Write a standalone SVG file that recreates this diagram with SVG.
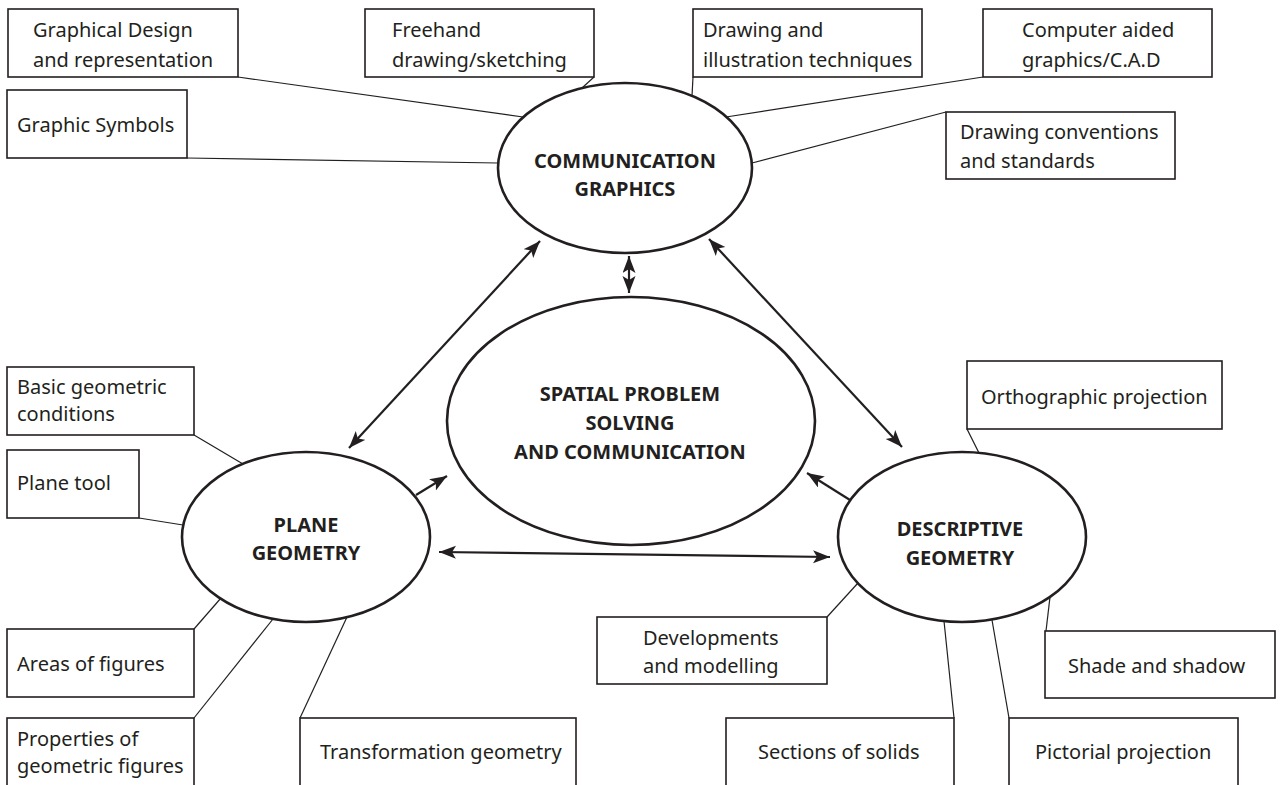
<svg xmlns="http://www.w3.org/2000/svg" width="1280" height="785" viewBox="0 0 1280 785">
<style>
.box{fill:#fff;stroke:#231f20;stroke-width:1.6}
.t{font-family:"Noto Sans","Open Sans","Liberation Sans",sans-serif;font-size:20px;fill:#231f20}
.b{font-family:"Noto Sans","Open Sans","Liberation Sans",sans-serif;font-size:20px;font-weight:bold;fill:#231f20;text-anchor:middle}
.ell{fill:#fff;stroke:#231f20;stroke-width:2.6}
.ln{stroke:#231f20;stroke-width:1.2;fill:none}
.ar{stroke:#231f20;stroke-width:2.2;fill:none;marker-end:url(#ah);marker-start:url(#ah)}
.ar1{stroke:#231f20;stroke-width:2.2;fill:none;marker-end:url(#ah)}
</style>
<defs>
<marker id="ah" markerUnits="userSpaceOnUse" markerWidth="18" markerHeight="14" refX="17" refY="6.5" orient="auto-start-reverse">
<path d="M0,0 L17,6.5 L0,13 L4,6.5 Z" fill="#231f20"/>
</marker>
</defs>
<rect width="1280" height="785" fill="#fff"/>
<g id="connectors">
<line class="ln" x1="238" y1="77" x2="523" y2="117"/>
<line class="ln" x1="594" y1="77" x2="582" y2="88"/>
<line class="ln" x1="693" y1="77" x2="692" y2="96"/>
<line class="ln" x1="983" y1="77" x2="726" y2="117"/>
<line class="ln" x1="187" y1="158" x2="498" y2="163"/>
<line class="ln" x1="946" y1="112" x2="752" y2="163"/>
<line class="ln" x1="194" y1="435" x2="243" y2="464"/>
<line class="ln" x1="139" y1="518" x2="183" y2="525"/>
<line class="ln" x1="194" y1="629" x2="221" y2="598"/>
<line class="ln" x1="194" y1="718" x2="273" y2="619"/>
<line class="ln" x1="300" y1="718" x2="347" y2="617"/>
<line class="ln" x1="967" y1="429" x2="979" y2="453"/>
<line class="ln" x1="827" y1="617" x2="858" y2="583"/>
<line class="ln" x1="1046" y1="631" x2="1050" y2="597"/>
<line class="ln" x1="954" y1="718" x2="944" y2="621"/>
<line class="ln" x1="1009" y1="718" x2="992" y2="620"/>
<line class="ar" x1="540" y1="241" x2="349" y2="448"/>
<line class="ar" x1="709" y1="239" x2="902" y2="447"/>
<line class="ar" x1="629" y1="256" x2="629" y2="293"/>
<line class="ar1" x1="416" y1="495" x2="447" y2="476"/>
<line class="ar1" x1="850" y1="500" x2="807" y2="473"/>
<line class="ar" x1="439" y1="552" x2="830" y2="557"/>
</g>
<g id="comm"><ellipse class="ell" cx="625" cy="168" rx="127" ry="85"/><text class="b" x="625" y="168">COMMUNICATION</text><text class="b" x="625" y="196">GRAPHICS</text></g>
<g id="spatial"><ellipse class="ell" cx="631" cy="421" rx="184" ry="124"/><text class="b" x="630" y="401">SPATIAL PROBLEM</text><text class="b" x="630" y="430">SOLVING</text><text class="b" x="630" y="459">AND COMMUNICATION</text></g>
<g id="plane"><ellipse class="ell" cx="306" cy="537" rx="124" ry="85"/><text class="b" x="306" y="532">PLANE</text><text class="b" x="306" y="560">GEOMETRY</text></g>
<g id="desc"><ellipse class="ell" cx="962" cy="537" rx="124" ry="85"/><text class="b" x="960" y="536">DESCRIPTIVE</text><text class="b" x="960" y="565">GEOMETRY</text></g>
<g id="n-graphical"><rect class="box" x="8" y="9" width="230" height="68"/><text class="t" x="33" y="37">Graphical Design</text><text class="t" x="33" y="67">and representation</text></g>
<g id="n-freehand"><rect class="box" x="365" y="9" width="229" height="68"/><text class="t" x="392" y="37">Freehand</text><text class="t" x="392" y="67">drawing/sketching</text></g>
<g id="n-drawing"><rect class="box" x="693" y="9" width="229" height="68"/><text class="t" x="703" y="37">Drawing and</text><text class="t" x="703" y="67">illustration techniques</text></g>
<g id="n-cad"><rect class="box" x="983" y="9" width="229" height="68"/><text class="t" x="1022" y="37">Computer aided</text><text class="t" x="1022" y="67">graphics/C.A.D</text></g>
<g id="n-symbols"><rect class="box" x="7" y="90" width="180" height="68"/><text class="t" x="17" y="132">Graphic Symbols</text></g>
<g id="n-conventions"><rect class="box" x="946" y="112" width="229" height="67"/><text class="t" x="960" y="139">Drawing conventions</text><text class="t" x="960" y="168">and standards</text></g>
<g id="n-basic"><rect class="box" x="7" y="367" width="187" height="68"/><text class="t" x="17" y="394">Basic geometric</text><text class="t" x="17" y="421">conditions</text></g>
<g id="n-planetool"><rect class="box" x="7" y="450" width="132" height="68"/><text class="t" x="17" y="490">Plane tool</text></g>
<g id="n-areas"><rect class="box" x="7" y="629" width="187" height="68"/><text class="t" x="17" y="671">Areas of figures</text></g>
<g id="n-properties"><rect class="box" x="7" y="718" width="187" height="72"/><text class="t" x="17" y="746">Properties of</text><text class="t" x="17" y="773">geometric figures</text></g>
<g id="n-transformation"><rect class="box" x="300" y="718" width="276" height="72"/><text class="t" x="320" y="759">Transformation geometry</text></g>
<g id="n-ortho"><rect class="box" x="967" y="361" width="255" height="68"/><text class="t" x="981" y="404">Orthographic projection</text></g>
<g id="n-developments"><rect class="box" x="597" y="617" width="230" height="67"/><text class="t" x="643" y="645">Developments</text><text class="t" x="643" y="673">and modelling</text></g>
<g id="n-shade"><rect class="box" x="1045" y="631" width="230" height="67"/><text class="t" x="1068" y="673">Shade and shadow</text></g>
<g id="n-sections"><rect class="box" x="726" y="718" width="228" height="72"/><text class="t" x="758" y="759">Sections of solids</text></g>
<g id="n-pictorial"><rect class="box" x="1009" y="718" width="229" height="72"/><text class="t" x="1035" y="759">Pictorial projection</text></g>
</svg>
